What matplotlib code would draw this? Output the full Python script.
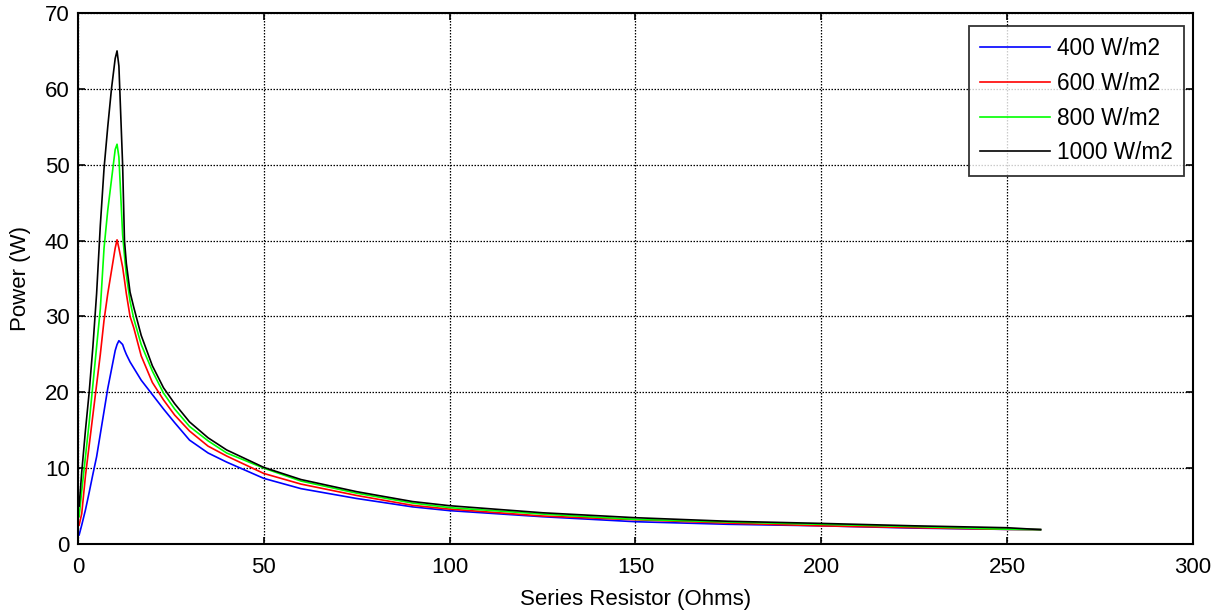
import matplotlib
matplotlib.use("Agg")
import matplotlib.pyplot as plt

plt.rcParams['font.family'] = ['Liberation Sans', 'DejaVu Sans']

resistance = [0.3, 1, 2, 3, 4, 5, 6, 7, 8, 9, 10, 10.5, 11, 12, 12.5, 13, 14, 15, 17, 20,
              23, 26, 30, 35, 40, 50, 60, 75, 90, 100, 125, 150, 175, 200, 225, 250, 259]

p400 = [1.2, 2.5, 4.5, 6.8, 9.2, 11.5, 14.5, 17.5, 20.5, 23, 25.5, 26.3, 26.8, 26.3, 25.6,
        25, 24, 23.2, 21.6, 19.7, 17.8, 16, 13.7, 12, 10.8, 8.65, 7.3, 6.0, 4.9, 4.4,
        3.6, 2.94, 2.6, 2.4, 2.1, 1.93, 1.9]
p600 = [2.5, 4, 9, 13, 17, 21, 25, 29.5, 33, 36, 39, 40.1, 39, 36.5, 34.8, 33, 30, 28.5,
        24.8, 21.3, 19, 17, 14.9, 12.9, 11.6, 9.3, 7.9, 6.4, 5.1, 4.6, 3.69, 3.2,
        2.75, 2.4, 2.15, 1.93, 1.9]
p800 = [3.6, 7, 11.5, 16, 21, 26, 31, 39, 44, 48, 52, 52.7, 51, 40.8, 38, 35.5, 32, 29.7,
        26.3, 22.8, 19.9, 17.8, 15.5, 13.6, 12, 10, 8.3, 6.7, 5.4, 4.8, 3.95, 3.25, 2.9,
        2.6, 2.3, 1.95, 1.9]
p1000 = [5, 9.5, 15, 20, 26, 33, 42, 49.5, 55, 60, 64, 65, 63, 50, 40, 37, 33.2, 31.2,
         27.5, 23.5, 20.6, 18.5, 16.1, 14, 12.4, 10.1, 8.5, 6.9, 5.6, 5.05, 4.12, 3.47, 3.0,
         2.72, 2.4, 2.15, 1.9]

labels = ['400 W/m2', '600 W/m2', '800 W/m2', '1000 W/m2']
colors = ['#0000ff', '#ff0000', '#00ff00', '#000000']
series = [p400, p600, p800, p1000]

fig = plt.figure(figsize=(12.21, 6.15), dpi=100)
ax_w, ax_h = 0.9131, 0.8635
ax = fig.add_axes([0.0639, 0.1154, ax_w, ax_h])

for vals, lab, col in zip(series, labels, colors):
    ax.plot(resistance, vals, color=col, lw=1.2, label=lab)

ax.set_xlim(0, 300)
ax.set_ylim(0, 70)
ax.set_xticks(range(0, 301, 50))
ax.set_yticks(range(0, 71, 10))
ax.grid(True, color='black', linestyle=(0, (1.2, 1.2)), linewidth=0.9)
ax.tick_params(direction='in', top=True, right=True, length=5, width=1.2,
               labelsize=16, colors='black')
ax.tick_params(axis='x', pad=9.5)
ax.tick_params(axis='y', pad=6)
for s in ax.spines.values():
    s.set_linewidth(1.5)
    s.set_color('black')

ax.set_xlabel('Series Resistor (Ohms)', fontsize=16, labelpad=8)
ax.set_ylabel('Power (W)', fontsize=16, labelpad=10)

fig_w_px, fig_h_px = 1221, 615
anchor = (1 - 9 / (ax_w * fig_w_px), 1 - 12.7 / (ax_h * fig_h_px))
leg = ax.legend(loc='upper right', bbox_to_anchor=anchor, borderaxespad=0,
                fontsize=16.3, frameon=True, fancybox=False,
                edgecolor='black', handlelength=3.1, handletextpad=0.3,
                labelspacing=0.52, borderpad=0.5)
leg.get_frame().set_linewidth(1.3)

fig.savefig('out.png', dpi=100, facecolor='white')
